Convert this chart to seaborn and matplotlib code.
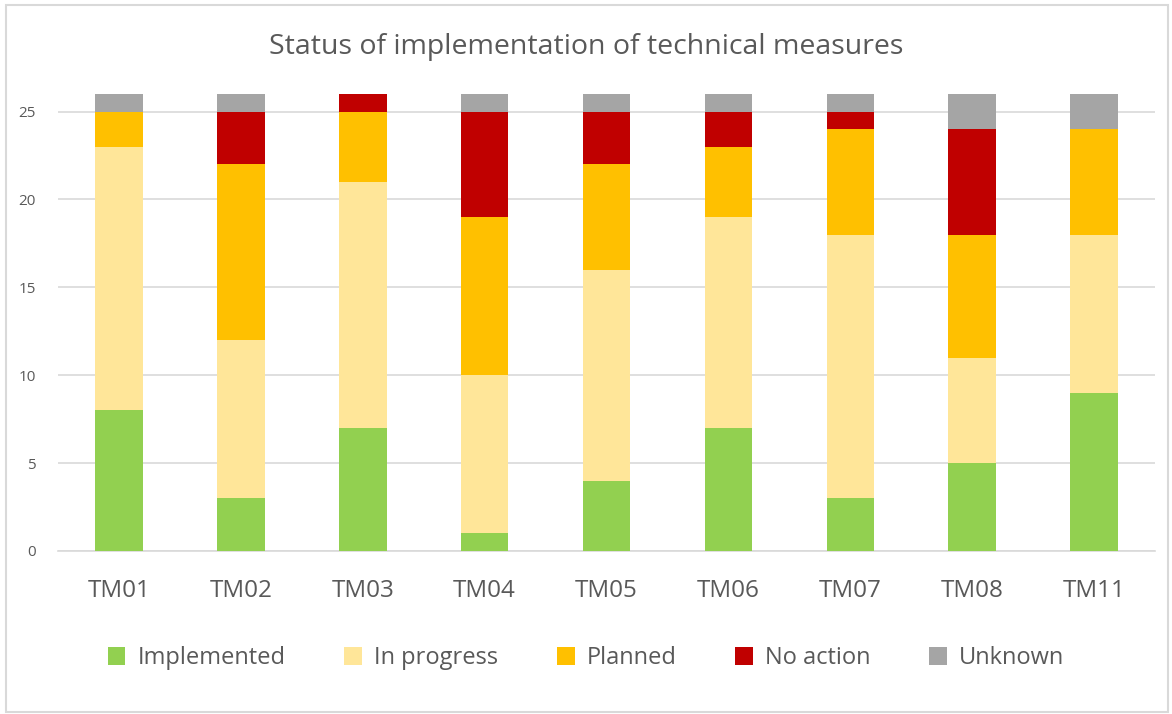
import matplotlib
matplotlib.use("Agg")
import matplotlib.pyplot as plt
from matplotlib.patches import Rectangle, Patch
import seaborn as sns
import numpy as np
import pandas as pd

# Data
measures = ["TM01", "TM02", "TM03", "TM04", "TM05", "TM06", "TM07", "TM08", "TM11"]
implemented = [8, 3, 7, 1, 4, 7, 3, 5, 9]
in_progress = [15, 9, 14, 9, 12, 12, 15, 6, 9]
planned = [2, 10, 4, 9, 6, 4, 6, 7, 6]
no_action = [0, 3, 1, 6, 3, 2, 1, 6, 0]
unknown = [1, 1, 0, 1, 1, 1, 1, 2, 2]

statuses = ["Implemented", "In progress", "Planned", "No action", "Unknown"]
colors = ["#92D050", "#FFE699", "#FFC000", "#C00000", "#A5A5A5"]

df = pd.DataFrame({"Measure": measures, "Implemented": implemented,
                   "In progress": in_progress, "Planned": planned,
                   "No action": no_action, "Unknown": unknown})
cum = df[statuses].cumsum(axis=1)

sns.set_theme(style="white")
plt.rcParams['font.family'] = ['Open Sans', 'DejaVu Sans']
text_col = "#595959"

fig = plt.figure(figsize=(11.72, 7.14), dpi=100)
ax = fig.add_axes([0.0495, 0.2283, 0.936, 0.64])

# stacked bars: tallest cumulative first, lower ones drawn over it
for status, col in reversed(list(zip(statuses, colors))):
    sns.barplot(x=df["Measure"], y=cum[status], color=col, width=0.39,
                saturation=1, linewidth=0, ax=ax, zorder=3)

ax.set_ylim(0, 26)
ax.set_xlim(-0.5, len(measures) - 0.5)
ax.set_yticks(range(0, 26, 5))
ax.yaxis.grid(True, color="#D9D9D9", linewidth=1.2, zorder=0)
ax.set_axisbelow(True)
for s in ["top", "right", "left"]:
    ax.spines[s].set_visible(False)
ax.spines["bottom"].set_color("#D9D9D9")
ax.spines["bottom"].set_linewidth(1.2)
ax.set_xlabel("")
ax.set_ylabel("")
ax.tick_params(axis="x", labelsize=17.5, colors=text_col, length=0, pad=20)
ax.tick_params(axis="y", labelsize=11, colors=text_col, length=0, pad=16)

fig.text(0.5, 0.934, "Status of implementation of technical measures",
         ha="center", va="center", fontsize=20.5, color=text_col)

handles = [Patch(facecolor=c, edgecolor="none") for c in colors]
fig.legend(handles, statuses, loc="center", bbox_to_anchor=(0.5, 0.078), ncol=5,
           frameon=False, fontsize=17, labelcolor=text_col, handlelength=0.75,
           handleheight=0.75, columnspacing=2.5, handletextpad=0.5)

fig.patches.append(Rectangle((0.005, 0.003), 0.992, 0.99, transform=fig.transFigure,
                             fill=False, edgecolor="#D9D9D9", linewidth=1.5))

fig.savefig("out.png", dpi=100)
